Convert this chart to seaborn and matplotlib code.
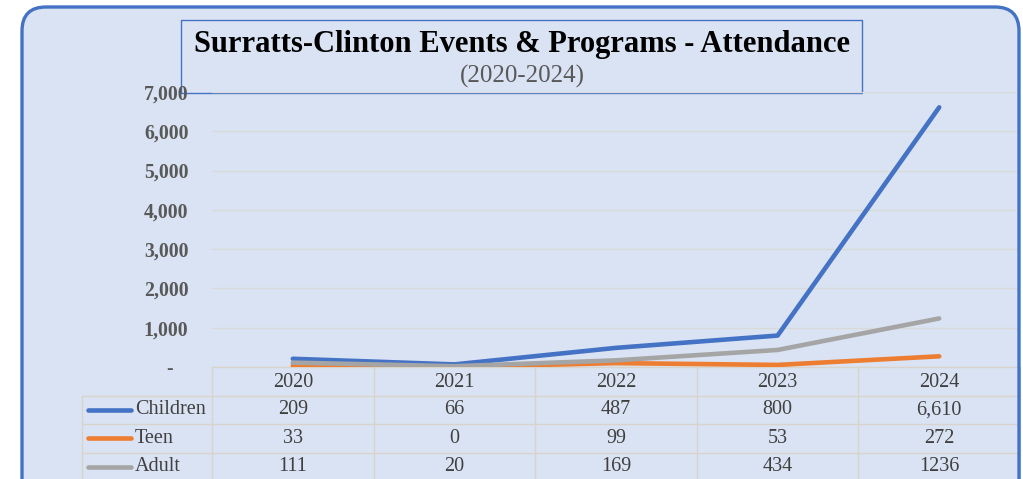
"""plot.py"""

import matplotlib.pyplot as plt
import matplotlib.transforms as mtransforms
import pandas as pd
import seaborn as sns
from matplotlib.patches import FancyBboxPatch, Rectangle
from matplotlib.ticker import FuncFormatter

# chart values
years = ["2020", "2021", "2022", "2023", "2024"]
series_names = ["Children", "Teen", "Adult"]
children = [209, 66, 487, 800, 6610]
teen = [33, 0, 99, 53, 272]
adult = [111, 20, 169, 434, 1236]
table_text = {
    "Children": ["209", "66", "487", "800", "6,610"],
    "Teen": ["33", "0", "99", "53", "272"],
    "Adult": ["111", "20", "169", "434", "1236"],
}
colors = {"Children": "#4472c4", "Teen": "#ed7d31", "Adult": "#a5a5a5"}
y_ticks = [0, 1000, 2000, 3000, 4000, 5000, 6000, 7000]

df = pd.DataFrame({"year": years * 3,
                   "series": [n for n in series_names for _ in years],
                   "value": children + teen + adult})

sns.set_theme(style="white")
plt.rcParams["font.family"] = ["Liberation Serif", "DejaVu Serif"]

W, H = 1023, 479
fig = plt.figure(figsize=(W / 100, H / 100), dpi=100)
fig.patch.set_facecolor("white")

# background layer in pixel coordinates
bg = fig.add_axes([0, 0, 1, 1])
bg.set_xlim(0, W)
bg.set_ylim(H, 0)
bg.axis("off")
bg.patch.set_alpha(0)
frame_box = dict(xy=(22, 7), width=997, height=500)
bg.add_patch(FancyBboxPatch(frame_box["xy"], frame_box["width"], frame_box["height"],
                            boxstyle="round,pad=0,rounding_size=24",
                            facecolor="#dae3f3", edgecolor="none"))

# main plot area
x0, x1, y_top, y_bot = 212, 1020, 92, 367
ax = fig.add_axes([x0 / W, 1 - y_bot / H, (x1 - x0) / W, (y_bot - y_top) / H])
ax.patch.set_alpha(0)
sns.lineplot(data=df, x="year", y="value", hue="series", palette=colors,
             linewidth=3.3, legend=False, ax=ax, solid_capstyle="round")
ax.set_xlim(-0.5, len(years) - 0.5)
ax.set_ylim(0, 7000)
ax.set_yticks(y_ticks)
ax.yaxis.set_major_formatter(FuncFormatter(lambda v, p: "-   " if v == 0 else f"{int(v):,}"))
ax.tick_params(axis="y", length=0, pad=17, labelsize=14.3, labelcolor="#595959")
for lab in ax.get_yticklabels():
    lab.set_fontweight("bold")
ax.set_xticks([])
ax.set_xlabel("")
ax.set_ylabel("")
ax.grid(axis="y", color="#d9d9d9", linewidth=1)
for s in ax.spines.values():
    s.set_visible(False)

# data table under the chart, columns follow the chart x scale
tr = mtransforms.blended_transform_factory(ax.transData, bg.transData)
row_h = 28.5
line_c = "#d8d4cc"
label_x = 82
n = len(years)
fs = 14.5
txt_c = "#404040"
bg.plot([x0, x1], [y_bot, y_bot], color=line_c, lw=1)
for r in range(1, 4):
    y = y_bot + r * row_h
    bg.plot([label_x, x1], [y, y], color=line_c, lw=1)
bg.plot([label_x, label_x], [y_bot + row_h, H], color=line_c, lw=1)
for i in range(n + 1):
    bg.plot([i - 0.5, i - 0.5], [y_bot, H], color=line_c, lw=1, transform=tr)
for i, yr in enumerate(years):
    bg.text(i, y_bot + row_h / 2 + 1, yr, transform=tr, ha="center", va="center",
            fontsize=fs, color=txt_c)
for r, name in enumerate(series_names, start=1):
    yc = y_bot + row_h * (r + 0.5)
    bg.plot([88, 131], [yc, yc], color=colors[name], lw=3.3, solid_capstyle="round")
    bg.text(135, yc, name, ha="left", va="center", fontsize=fs, color=txt_c)
    for i, v in enumerate(table_text[name]):
        bg.text(i, yc, v, transform=tr, ha="center", va="center", fontsize=fs, color=txt_c)

# title box
bg.add_patch(Rectangle((181, 20), 681, 73, facecolor="none", edgecolor="#4472c4", lw=1))
bg.text(522, 44, "Surratts-Clinton Events & Programs - Attendance", ha="center", va="center",
        fontsize=22, fontweight="bold", color="black")
bg.text(522, 76, "(2020-2024)", ha="center", va="center", fontsize=18, color="#595959")

# outer rounded frame on top
frame = FancyBboxPatch(frame_box["xy"], frame_box["width"], frame_box["height"],
                       boxstyle="round,pad=0,rounding_size=24",
                       facecolor="none", edgecolor="#4472c4", linewidth=2.4,
                       transform=bg.transData, zorder=10)
fig.patches.append(frame)
frame.set_figure(fig)

fig.savefig("out.png", dpi=100)
